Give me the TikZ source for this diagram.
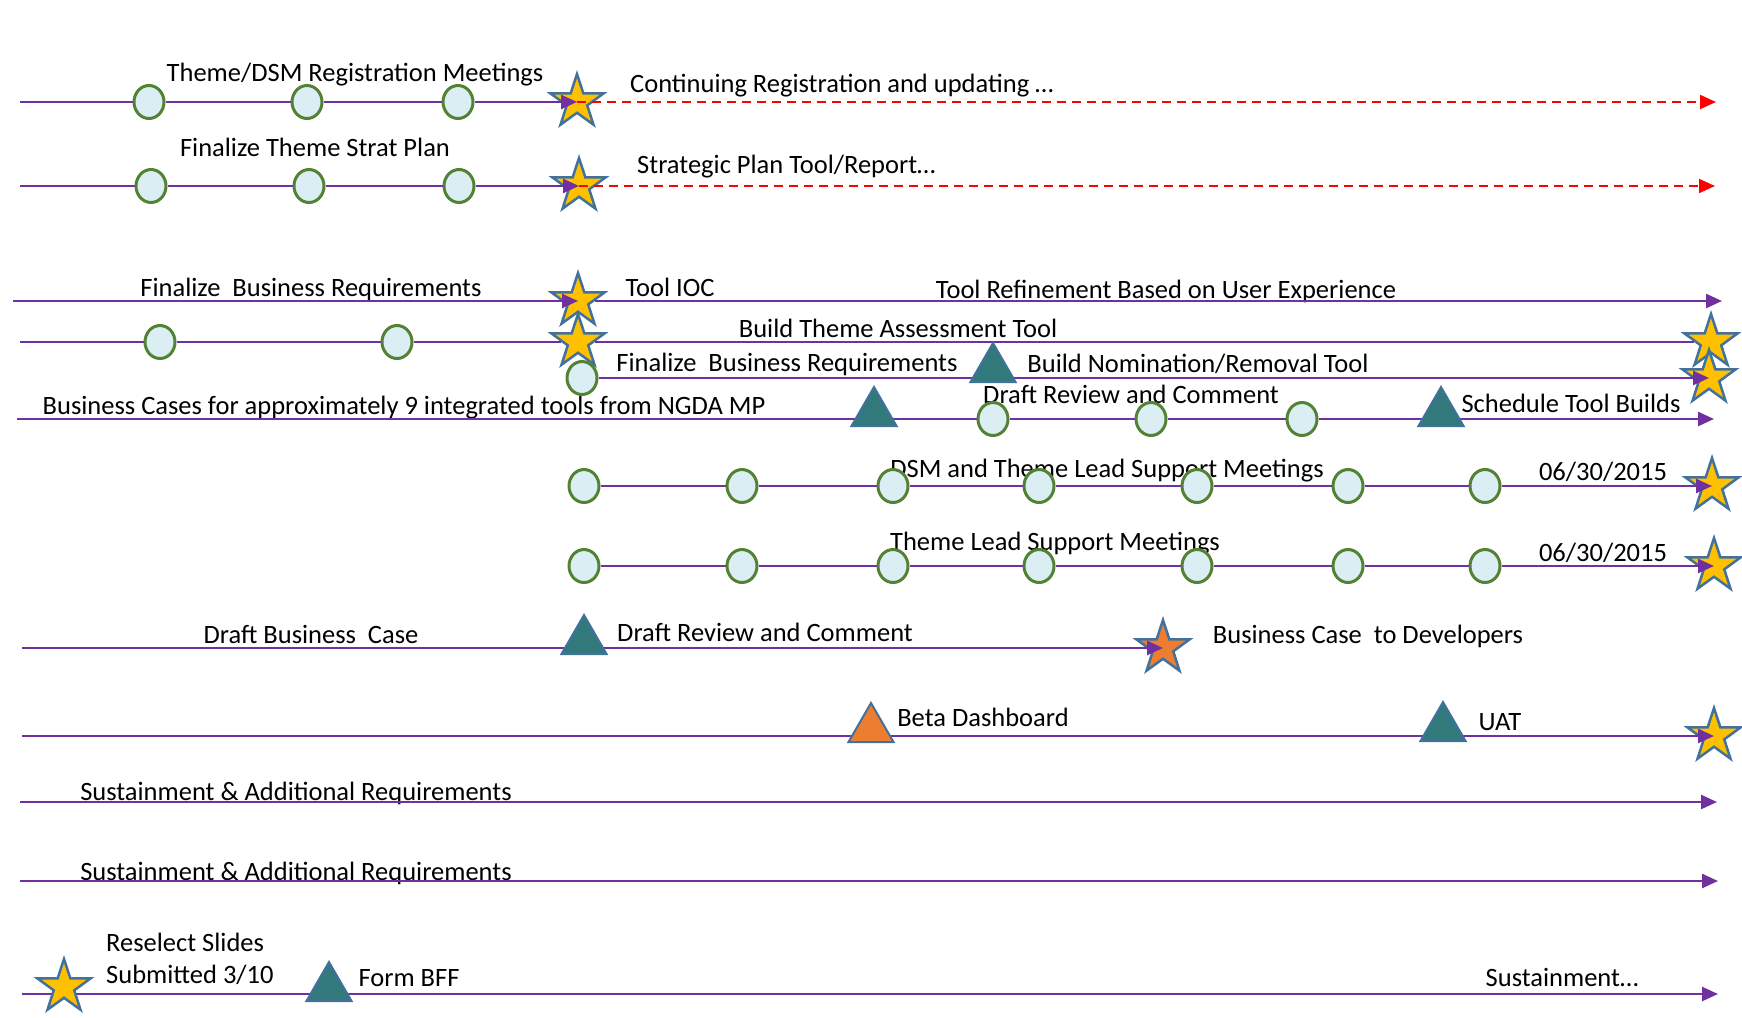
\documentclass[tikz,border=0pt]{standalone}
\usepackage{fontspec}
\setmainfont{Carlito}
\usetikzlibrary{shapes.geometric,shapes.misc,arrows.meta}
\definecolor{linepurple}{HTML}{7030A0}
\definecolor{ringgreen}{HTML}{548235}
\definecolor{ringfill}{HTML}{DAEEF3}
\definecolor{staryellow}{HTML}{FFC000}
\definecolor{starblue}{HTML}{41719C}
\definecolor{tealfill}{HTML}{31797A}
\definecolor{orangefill}{HTML}{ED7D31}
\begin{document}
\begin{tikzpicture}[x=1pt,y=-1pt,
    milestone/.style ={ellipse, draw=ringgreen, fill=ringfill, line width=3pt, minimum width=30pt, minimum height=33pt, inner sep=0pt},
    deliverable/.style ={star, star points=5, star point ratio=2.6, draw=starblue, fill=staryellow, line width=2.5pt, minimum size=56pt, inner sep=0pt},
    checkpoint/.style ={regular polygon, regular polygon sides=3, draw=starblue, fill=tealfill, line width=2pt, minimum size=52pt, inner sep=0pt},
    task/.style ={draw=linepurple, line width=2.5pt},
    taskarrow/.style ={task, -{Triangle[length=16pt,width=14pt]}},
    ongoing/.style ={draw=red, line width=2pt, dash pattern=on 9pt off 6pt, -{Triangle[length=16pt,width=14pt]}},
    tasktext/.style ={font=\fontsize{26.5}{32}\selectfont, inner sep=0pt, text depth=0pt}]
   \useasboundingbox (0,0) rectangle (1742,1017);

   % texts
   \node[tasktext] (t1a) at (355,72)  {Theme/DSM Registration Meetings};
   \node[tasktext, anchor=west] (t1b) at (630,83)  {Continuing Registration and updating …};
   \node[tasktext] (t2a) at (315,147) {Finalize Theme Strat Plan};
   \node[tasktext, anchor=west] (t2b) at (637,164) {Strategic Plan Tool/Report…};
   \node[tasktext] (t3a) at (311,287) {Finalize\ \ Business Requirements};
   \node[tasktext] (t3b) at (670,287) {Tool IOC};
   \node[tasktext] (t3c) at (1166,289) {Tool Refinement Based on User Experience};
   \node[tasktext] (t4a) at (898,328) {Build Theme Assessment Tool};
   \node[tasktext] (t5a) at (787,362) {Finalize\ \ Business Requirements};
   \node[tasktext] (t5b) at (1198,363) {Build Nomination/Removal Tool};
   \node[tasktext] (t6a) at (404,405) {Business Cases for approximately 9 integrated tools from NGDA MP};
   \node[tasktext] (t6b) at (1131,394) {Draft Review and Comment};
   \node[tasktext] (t6c) at (1571,403) {Schedule Tool Builds};
   \node[tasktext] (t7a) at (1107,468) {DSM and Theme Lead Support Meetings};
   \node[tasktext] (t7b) at (1603,471) {06/30/2015};
   \node[tasktext] (t8a) at (1055,541) {Theme Lead Support Meetings};
   \node[tasktext] (t8b) at (1603,552) {06/30/2015};
   \node[tasktext] (t9a) at (311,634) {Draft Business\ \ Case};
   \node[tasktext] (t9b) at (765,632) {Draft Review and Comment};
   \node[tasktext] (t9c) at (1368,634) {Business Case\ \ to Developers};
   \node[tasktext] (t10a) at (983,717) {Beta Dashboard};
   \node[tasktext] (t10b) at (1500,722) {UAT};
   \node[tasktext] (t11a) at (296,791) {Sustainment \& Additional Requirements};
   \node[tasktext] (t12a) at (296,871) {Sustainment \& Additional Requirements};
   \node[tasktext, anchor=west, align=left] (t13a) at (106,958) {Reselect Slides\\Submitted 3/10};
   \node[tasktext] (t13b) at (409,978) {Form BFF};
   \node[tasktext] (t13c) at (1562,977) {Sustainment…};

   % row 1
   \coordinate (r1start) at (20,102);
   \node[milestone] (r1c1) at (149,102) {};
   \node[milestone] (r1c2) at (307,102) {};
   \node[milestone] (r1c3) at (458,102) {};
   \node[deliverable] (r1star) at (577,102) {};
   \coordinate (r1end) at (1716,102);
   \draw[task] (r1start) to (r1c1);
   \draw[task] (r1c1) to (r1c2);
   \draw[task] (r1c2) to (r1c3);
   \draw[taskarrow] (r1c3) to (r1star.center);
   \draw[ongoing] (r1star.center) to (r1end);

   % row 2
   \coordinate (r2start) at (20,186);
   \node[milestone] (r2c1) at (151,186) {};
   \node[milestone] (r2c2) at (309,186) {};
   \node[milestone] (r2c3) at (459,186) {};
   \node[deliverable] (r2star) at (579,186) {};
   \coordinate (r2end) at (1715,186);
   \draw[task] (r2start) to (r2c1);
   \draw[task] (r2c1) to (r2c2);
   \draw[task] (r2c2) to (r2c3);
   \draw[taskarrow] (r2c3) to (r2star.center);
   \draw[ongoing] (r2star.center) to (r2end);

   % row 3 and row 4
   \coordinate (r3start) at (13,301);
   \node[deliverable] (r3star) at (578,301) {};
   \coordinate (r3end) at (1722,301);
   \coordinate (r4start) at (20,342);
   \node[milestone] (r4c1) at (160,342) {};
   \node[milestone] (r4c2) at (397,342) {};
   \node[deliverable] (r4star) at (578,342) {};
   \node[deliverable] (r4endstar) at (1711,342) {};
   \draw[taskarrow] (r3start) to (r3star.center);
   \draw[taskarrow] (r3star) to (r3end);
   \draw[task] (r4start) to (r4c1);
   \draw[task] (r4c1) to (r4c2);
   \draw[task] (r4c2) to (r4star);
   \draw[task] (r4star) to (r4endstar);

   % row 5
   \node[milestone] (r5c1) at (582,378) {};
   \node[deliverable] (r5endstar) at (1709,378) {};
   \draw[taskarrow] (r5c1) to (r5endstar.center);
   \node[checkpoint] (r5tri) at (993,369) {};

   % row 6
   \coordinate (r6start) at (17,419);
   \node[milestone] (r6c1) at (993,419) {};
   \node[milestone] (r6c2) at (1151,419) {};
   \node[milestone] (r6c3) at (1302,419) {};
   \coordinate (r6end) at (1714,419);
   \draw[task] (r6start) to (r6c1);
   \draw[task] (r6c1) to (r6c2);
   \draw[task] (r6c2) to (r6c3);
   \draw[taskarrow] (r6c3) to (r6end);
   \node[checkpoint] (r6tri1) at (874,413) {};
   \node[checkpoint] (r6tri2) at (1441,413) {};

   % row 7
   \node[milestone] (r7c1) at (584,486) {};
   \node[milestone] (r7c2) at (742,486) {};
   \node[milestone] (r7c3) at (893,486) {};
   \node[milestone] (r7c4) at (1039,486) {};
   \node[milestone] (r7c5) at (1197,486) {};
   \node[milestone] (r7c6) at (1348,486) {};
   \node[milestone] (r7c7) at (1485,486) {};
   \node[deliverable] (r7star) at (1712,486) {};
   \draw[task] (r7c1) to (r7c2);
   \draw[task] (r7c2) to (r7c3);
   \draw[task] (r7c3) to (r7c4);
   \draw[task] (r7c4) to (r7c5);
   \draw[task] (r7c5) to (r7c6);
   \draw[task] (r7c6) to (r7c7);
   \draw[taskarrow] (r7c7) to (r7star.center);

   % row 8
   \node[milestone] (r8c1) at (584,566) {};
   \node[milestone] (r8c2) at (742,566) {};
   \node[milestone] (r8c3) at (893,566) {};
   \node[milestone] (r8c4) at (1039,566) {};
   \node[milestone] (r8c5) at (1197,566) {};
   \node[milestone] (r8c6) at (1348,566) {};
   \node[milestone] (r8c7) at (1485,566) {};
   \node[deliverable] (r8star) at (1714,566) {};
   \draw[task] (r8c1) to (r8c2);
   \draw[task] (r8c2) to (r8c3);
   \draw[task] (r8c3) to (r8c4);
   \draw[task] (r8c4) to (r8c5);
   \draw[task] (r8c5) to (r8c6);
   \draw[task] (r8c6) to (r8c7);
   \draw[taskarrow] (r8c7) to (r8star.center);

   % row 9
   \coordinate (r9start) at (22,648);
   \node[deliverable, fill=orangefill] (r9star) at (1163,648) {};
   \draw[taskarrow] (r9start) to (r9star.center);
   \node[checkpoint] (r9tri) at (584,641) {};

   % row 10
   \coordinate (r10start) at (22,736);
   \node[deliverable] (r10star) at (1714,736) {};
   \draw[taskarrow] (r10start) to (r10star.center);
   \node[checkpoint, fill=orangefill] (r10tri1) at (871,729) {};
   \node[checkpoint] (r10tri2) at (1443,728) {};

   % rows 11 and 12
   \coordinate (r11start) at (20,802);
   \coordinate (r11end) at (1717,802);
   \draw[taskarrow] (r11start) to (r11end);
   \coordinate (r12start) at (20,881);
   \coordinate (r12end) at (1718,881);
   \draw[taskarrow] (r12start) to (r12end);

   % row 13
   \coordinate (r13start) at (22,994);
   \coordinate (r13end) at (1718,994);
   \draw[taskarrow] (r13start) to (r13end);
   \node[deliverable] (r13star) at (64,987) {};
   \node[checkpoint] (r13tri) at (329,988) {};
 \end{tikzpicture}
\end{document}
